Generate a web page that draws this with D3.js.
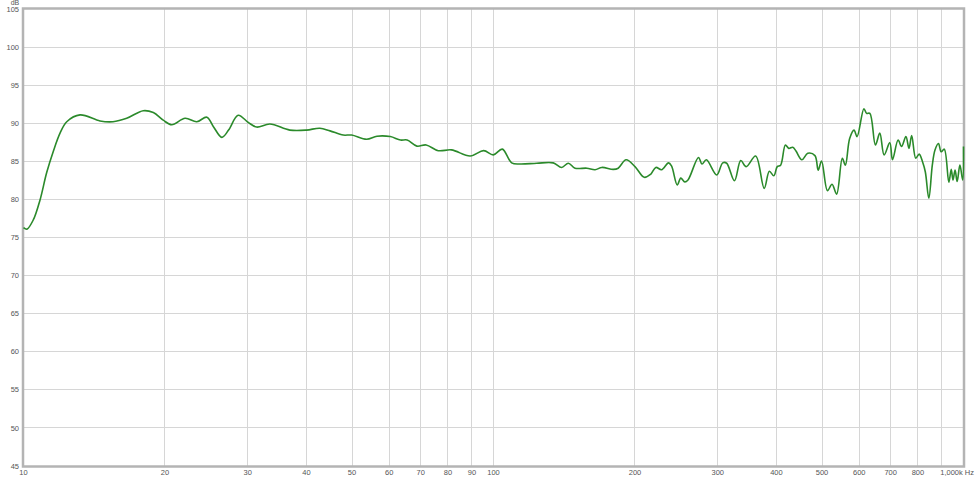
<!DOCTYPE html>
<html><head><meta charset="utf-8">
<script src="https://cdn.jsdelivr.net/npm/d3@7"></script>
<style>html,body{margin:0;padding:0;background:#fff;}svg{display:block;font-family:"Liberation Sans",Arial,sans-serif;}</style>
</head><body>
<svg id="chart" width="975" height="479"></svg>
<script>
const freqs = [10.0,10.17,10.49,10.84,11.2,11.57,11.96,12.36,13.19,14.55,15.5,16.58,17.98,18.89,19.83,20.67,22.07,23.37,24.55,25.36,26.42,27.31,28.62,30.08,31.34,33.44,36.87,40.0,42.7,44.9,47.9,49.9,53.7,56.5,60.3,63.4,65.5,68.7,71.9,76.3,81.4,89.2,95.3,99.9,104.4,109.3,113.9,123.6,134.0,139.6,144.3,149.1,158.0,164.5,170.0,179.8,184.2,191.5,200.0,209.3,215.9,221.5,227.8,235.7,239.2,246.0,250.3,255.3,259.3,273.0,277.7,283.7,298.5,307.4,313.4,325.6,335.8,344.8,361.2,376.7,386.3,394.9,401.5,408.2,417.9,424.9,433.1,440.1,453.0,466.2,483.0,490.7,498.9,513.5,525.1,537.1,552.3,560.5,572.5,584.9,593.7,613.9,622.0,632.1,649.6,663.6,677.8,697.0,706.1,725.9,738.3,754.2,765.6,775.8,791.5,804.7,818.1,829.5,843.8,858.3,869.7,884.7,896.4,910.2,930.7,941.7,949.8,959.6,969.4,982.5,996.2,1000];
const dbValues = [76.3,76.1,77.3,79.9,83.5,86.3,88.7,90.2,91.1,90.3,90.2,90.65,91.65,91.4,90.4,89.8,90.65,90.2,90.8,89.55,88.15,89.1,91.05,90.1,89.5,89.9,89.1,89.1,89.35,89.0,88.45,88.45,87.9,88.3,88.25,87.8,87.8,87.0,87.15,86.4,86.5,85.7,86.4,85.85,86.6,84.8,84.65,84.75,84.8,84.2,84.75,84.1,84.1,83.9,84.2,83.95,84.1,85.2,84.3,82.9,83.3,84.2,83.9,84.8,84.4,81.9,82.8,82.3,82.55,85.5,84.65,85.2,83.2,84.8,84.75,82.45,85.1,84.3,85.7,81.45,83.7,83.1,84.3,84.5,87.15,86.7,86.85,86.35,85.2,86.05,85.75,83.85,85.05,81.15,82.0,80.7,85.4,84.5,88.0,89.1,88.25,91.9,91.3,91.3,87.15,88.7,85.85,87.45,85.2,87.8,86.95,88.25,86.7,88.4,85.4,85.95,84.95,83.6,80.15,84.5,86.5,87.35,86.25,86.6,82.25,83.95,82.55,83.85,82.35,84.5,82.55,86.95];
const xGrid = [20,30,40,50,60,70,80,90,100,200,300,400,500,600,700,800,900];
const xTickValues = [10,20,30,40,50,60,70,80,90,100,200,300,400,500,600,700,800];
const xTickLabels = ["10","20","30","40","50","60","70","80","90","100","200","300","400","500","600","700","800"];
const yTickValues = [45,50,55,60,65,70,75,80,85,90,95,100,105];
const yUnit = "dB";
const xEndLabel = "1,000k Hz";

const svg = d3.select("#chart");
const L = 23.5, R = 963.5, T = 9, B = 466;
const x = d3.scaleLog().domain([10,1000]).range([L,R]);
const y = d3.scaleLinear().domain([45,105]).range([B,T]);

svg.append("rect").attr("width",975).attr("height",479).attr("fill","#fff");

// grid
const g = svg.append("g");
g.selectAll("line.h").data(yTickValues.slice(1,-1)).enter().append("line")
  .attr("x1",L).attr("x2",R).attr("y1",d=>y(d)).attr("y2",d=>y(d))
  .attr("stroke","#d6d6d6").attr("stroke-width",1).attr("shape-rendering","crispEdges");
g.selectAll("line.v").data(xGrid).enter().append("line")
  .attr("x1",d=>x(d)).attr("x2",d=>x(d)).attr("y1",T).attr("y2",B)
  .attr("stroke","#d6d6d6").attr("stroke-width",1).attr("shape-rendering","crispEdges");

// frame
svg.append("rect").attr("x",L-0.5).attr("y",T-0.5).attr("width",R-L+1).attr("height",B-T+1)
  .attr("fill","none").attr("stroke","#b4b4b4").attr("stroke-width",2.5);

// y labels
svg.selectAll("text.y").data(yTickValues).enter().append("text")
  .attr("x",19).attr("y",d=>y(d)).attr("dy","0.35em").attr("text-anchor","end")
  .attr("font-size",7.5).attr("fill","#555").text(d=>d);
svg.append("text").attr("x",15).attr("y",5).attr("text-anchor","middle")
  .attr("font-size",7).attr("fill","#555").text(yUnit);

// x labels
svg.selectAll("text.x").data(xTickValues).enter().append("text")
  .attr("x",(d)=>x(d)).attr("y",475).attr("text-anchor","middle")
  .attr("font-size",7.5).attr("fill","#555").text((d,i)=>xTickLabels[i]);
svg.append("text").attr("x",974).attr("y",475).attr("text-anchor","end")
  .attr("font-size",7.5).attr("fill","#555").text(xEndLabel);

// curve
const data = freqs.map((f,i)=>[f,dbValues[i]]);
const line = d3.line().x(d=>x(d[0])).y(d=>y(d[1])).curve(d3.curveCatmullRom.alpha(0.5));
svg.append("path").datum(data).attr("d",line).attr("fill","none")
  .attr("stroke","#2b8a2b").attr("stroke-width",1.6).attr("stroke-linejoin","round");
</script>
</body></html>
